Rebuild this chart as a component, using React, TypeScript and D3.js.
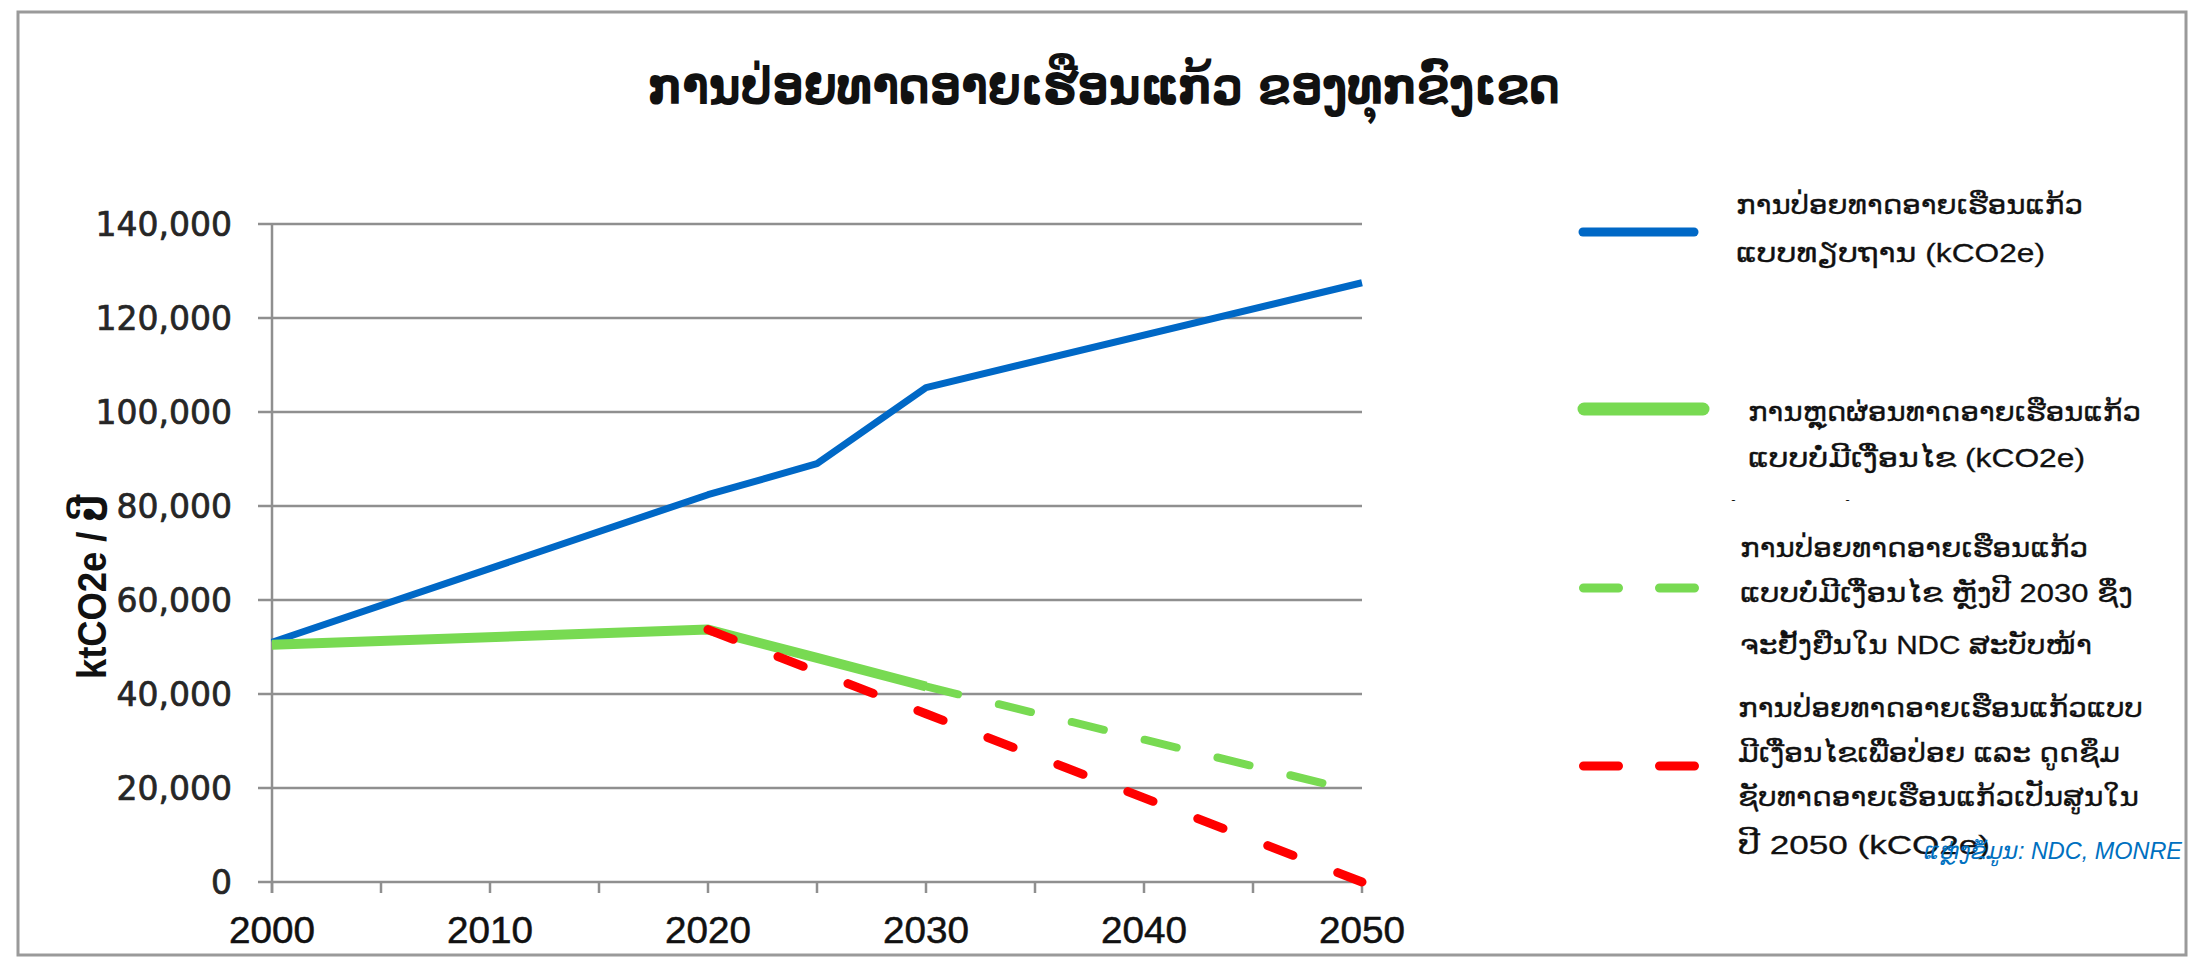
import React, { useEffect, useRef } from 'react';
import * as d3 from 'd3';

const width = 2191;
const height = 959;

const title = 'ການປ່ອຍທາດອາຍເຮືອນແກ້ວ ຂອງທຸກຂົງເຂດ';
const yAxisTitle = 'ktCO2e / ປີ';
const sourceText = 'ແຫຼ່ງຂໍ້ມູນ: NDC, MONRE';

const yTicks = [0, 20000, 40000, 60000, 80000, 100000, 120000, 140000];
const xLabelYears = [2000, 2010, 2020, 2030, 2040, 2050];
const xTickYears = [2000, 2005, 2010, 2015, 2020, 2025, 2030, 2035, 2040, 2045, 2050];

// baseline (BAU)
const baseYears = [2000, 2020, 2025, 2030, 2050];
const baseValues = [51000, 82400, 89000, 105200, 127500];
// unconditional reduction
const uncondYears = [2000, 2020, 2025, 2030];
const uncondValues = [50500, 53700, 47700, 41600];
// unconditional after 2030 (to be confirmed)
const afterYears = [2030, 2040, 2050];
const afterValues = [41600, 30300, 19000];
// conditional net zero by 2050
const condYears = [2020, 2030, 2040, 2050];
const condValues = [53700, 35800, 17900, 0];

const legendBase = ['ການປ່ອຍທາດອາຍເຮືອນແກ້ວ', 'ແບບທຽບຖານ (kCO2e)'];
const legendUncond = ['ການຫຼຸດຜ່ອນທາດອາຍເຮືອນແກ້ວ', 'ແບບບໍ່ມີເງື່ອນໄຂ (kCO2e)'];
const legendAfter = ['ການປ່ອຍທາດອາຍເຮືອນແກ້ວ', 'ແບບບໍ່ມີເງື່ອນໄຂ ຫຼັງປີ 2030 ຊຶ່ງ', 'ຈະຢັ້ງຢືນໃນ NDC ສະບັບໜ້າ'];
const legendCond = ['ການປ່ອຍທາດອາຍເຮືອນແກ້ວແບບ', 'ມີເງື່ອນໄຂເພື່ອປ່ອຍ ແລະ ດູດຊຶມ', 'ຊັບທາດອາຍເຮືອນແກ້ວເປັນສູນໃນ', 'ປີ 2050  (kCO2e)'];

const BLUE = '#0068c6';
const GREEN = '#78da52';
const RED = '#ff0000';
const GRID = '#8f8f8f';

const Chart: React.FC = () => {
  const ref = useRef<SVGSVGElement>(null);

  useEffect(() => {
    if (!ref.current) return;
    const svg = d3.select(ref.current);
    svg.selectAll('*').remove();

    const x = d3.scaleLinear().domain([2000, 2050]).range([272, 1362]);
    const y = d3.scaleLinear().domain([0, 140000]).range([882, 224]);

    svg.append('rect').attr('width', width).attr('height', height).attr('fill', '#fff');

    const defs = svg.append('defs');
    defs.append('clipPath').attr('id', 'cutClip')
      .append('rect').attr('x', 1700).attr('y', 500).attr('width', 200).attr('height', 10);

    // title
    svg.append('text')
      .attr('x', 1104).attr('y', 104)
      .attr('text-anchor', 'middle')
      .attr('font-family', 'DejaVu Sans, sans-serif')
      .attr('font-weight', 'bold')
      .attr('font-size', 52)
      .attr('textLength', 912)
      .attr('lengthAdjust', 'spacingAndGlyphs')
      .attr('fill', '#111')
      .text(title);

    // gridlines + y ticks
    svg.append('g').selectAll('line').data(yTicks).enter().append('line')
      .attr('x1', 258).attr('x2', x(2050))
      .attr('y1', d => y(d)).attr('y2', d => y(d))
      .attr('stroke', GRID).attr('stroke-width', 2.5);

    svg.append('line')
      .attr('x1', x(2000)).attr('x2', x(2000))
      .attr('y1', y(140000)).attr('y2', 893)
      .attr('stroke', GRID).attr('stroke-width', 2.5);

    svg.append('g').selectAll('line').data(xTickYears).enter().append('line')
      .attr('x1', d => x(d)).attr('x2', d => x(d))
      .attr('y1', y(0)).attr('y2', 893)
      .attr('stroke', GRID).attr('stroke-width', 2.5);

    const fmt = d3.format(',');
    svg.append('g').selectAll('text').data(yTicks).enter().append('text')
      .attr('x', 232).attr('y', d => y(d))
      .attr('dy', '0.36em')
      .attr('text-anchor', 'end')
      .attr('font-family', 'DejaVu Sans, sans-serif')
      .attr('font-size', 33)
      .attr('fill', '#262626')
      .attr('stroke', '#262626')
      .attr('stroke-width', 0.7)
      .text(d => fmt(d));

    svg.append('g').selectAll('text').data(xLabelYears).enter().append('text')
      .attr('x', d => x(d)).attr('y', 943)
      .attr('text-anchor', 'middle')
      .attr('font-family', 'Liberation Sans, Arial, sans-serif')
      .attr('font-size', 36)
      .attr('textLength', 86)
      .attr('lengthAdjust', 'spacingAndGlyphs')
      .attr('fill', '#111')
      .attr('stroke', '#111')
      .attr('stroke-width', 0.5)
      .text(d => String(d));

    svg.append('text')
      .attr('transform', 'translate(106,587) rotate(-90)')
      .attr('text-anchor', 'middle')
      .attr('font-family', 'Liberation Sans, DejaVu Sans, sans-serif')
      .attr('font-weight', 'bold')
      .attr('font-size', 40)
      .attr('textLength', 184)
      .attr('lengthAdjust', 'spacingAndGlyphs')
      .attr('fill', '#111')
      .text(yAxisTitle);

    const line = d3.line<[number, number]>().x(d => x(d[0])).y(d => y(d[1]));
    const pts = (ys: number[], vs: number[]) => ys.map((yr, i) => [yr, vs[i]] as [number, number]);

    svg.append('path').attr('d', line(pts(baseYears, baseValues)))
      .attr('fill', 'none').attr('stroke', BLUE).attr('stroke-width', 7)
      .attr('stroke-linejoin', 'round');
    svg.append('path').attr('d', line(pts(uncondYears, uncondValues)))
      .attr('fill', 'none').attr('stroke', GREEN).attr('stroke-width', 10)
      .attr('stroke-linejoin', 'round');
    svg.append('path').attr('d', line(pts(afterYears, afterValues)))
      .attr('fill', 'none').attr('stroke', GREEN).attr('stroke-width', 8)
      .attr('stroke-linecap', 'round').attr('stroke-dasharray', '33 42');
    svg.append('path').attr('d', line(pts(condYears, condValues)))
      .attr('fill', 'none').attr('stroke', RED).attr('stroke-width', 9)
      .attr('stroke-linecap', 'round').attr('stroke-dasharray', '27 48');

    // legend
    const lg = svg.append('g');
    lg.append('line').attr('x1', 1583).attr('x2', 1694).attr('y1', 232).attr('y2', 232)
      .attr('stroke', BLUE).attr('stroke-width', 9).attr('stroke-linecap', 'round');
    lg.append('line').attr('x1', 1584).attr('x2', 1703).attr('y1', 409).attr('y2', 409)
      .attr('stroke', GREEN).attr('stroke-width', 13).attr('stroke-linecap', 'round');
    lg.append('line').attr('x1', 1583.5).attr('x2', 1694.5).attr('y1', 588).attr('y2', 588)
      .attr('stroke', GREEN).attr('stroke-width', 9).attr('stroke-linecap', 'round')
      .attr('stroke-dasharray', '35 41');
    lg.append('line').attr('x1', 1583.5).attr('x2', 1694.5).attr('y1', 766).attr('y2', 766)
      .attr('stroke', RED).attr('stroke-width', 9).attr('stroke-linecap', 'round')
      .attr('stroke-dasharray', '35 41');

    const legendText = (lines: string[], x0: number, ys: number[], lens: number[]) => {
      lines.forEach((t, i) => {
        lg.append('text')
          .attr('x', x0).attr('y', ys[i]).attr('dy', '0.35em')
          .attr('font-family', 'Liberation Sans, DejaVu Sans, sans-serif')
          .attr('font-size', 26)
          .attr('textLength', lens[i])
          .attr('lengthAdjust', 'spacingAndGlyphs')
          .attr('fill', '#111')
          .attr('stroke', '#111')
          .attr('stroke-width', 0.3)
          .text(t);
      });
    };
    legendText(legendBase, 1736, [205, 253], [347, 309]);
    legendText(legendUncond, 1748, [412, 458], [393, 337]);
    legendText(legendAfter, 1740, [548, 593, 645], [348, 393, 352]);
    legendText(legendCond, 1738, [708, 753, 797, 845], [405, 382, 401, 252]);

    // clipped remnant of a hidden line
    lg.append('text')
      .attr('x', 1724).attr('y', 487).attr('dy', '0.35em')
      .attr('clip-path', 'url(#cutClip)')
      .attr('font-family', 'Liberation Sans, sans-serif')
      .attr('font-size', 26)
      .attr('textLength', 133)
      .attr('lengthAdjust', 'spacingAndGlyphs')
      .attr('fill', '#111')
      .text('(kCO2e)');

    // source
    svg.append('text')
      .attr('x', 1924).attr('y', 859)
      .attr('font-family', 'Liberation Sans, DejaVu Sans, sans-serif')
      .attr('font-style', 'italic')
      .attr('font-size', 23)
      .attr('textLength', 258)
      .attr('lengthAdjust', 'spacingAndGlyphs')
      .attr('fill', '#0070c0')
      .text(sourceText);

    // frame
    svg.append('rect')
      .attr('x', 18).attr('y', 12).attr('width', 2168).attr('height', 943)
      .attr('fill', 'none').attr('stroke', '#9a9a9a').attr('stroke-width', 3);
  }, []);

  return <svg ref={ref} width={width} height={height} style={{ position: 'absolute', left: 0, top: 0 }} />;
};

export default function App() {
  return <Chart />;
}
